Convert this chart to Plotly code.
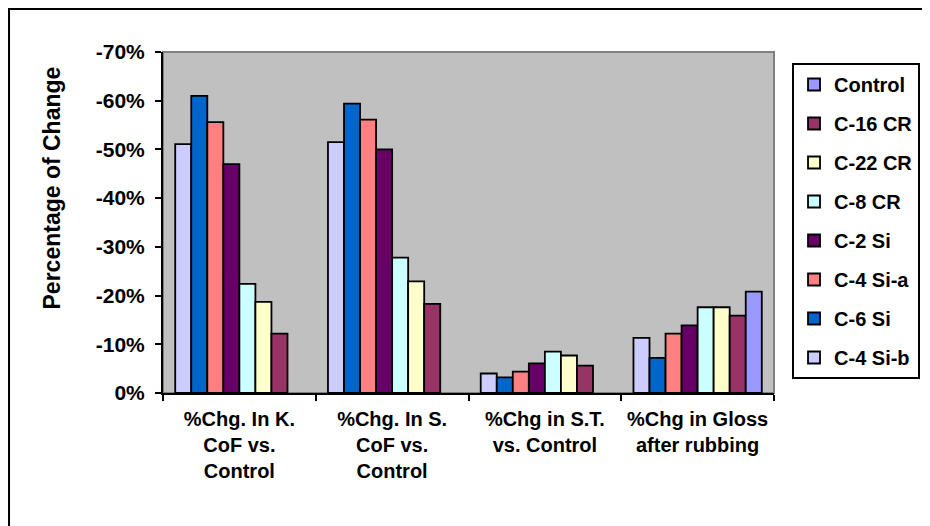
import plotly.graph_objects as go

categories = [
    "%Chg. In K.<br>CoF vs.<br>Control",
    "%Chg. In S.<br>CoF vs.<br>Control",
    "%Chg in S.T.<br>vs. Control",
    "%Chg in Gloss<br>after rubbing",
]

# series listed in bar order (left to right within each group)
series_names = ["C-4 Si-b", "C-6 Si", "C-4 Si-a", "C-2 Si", "C-8 CR", "C-22 CR", "C-16 CR", "Control"]
legend_ranks = [8, 7, 6, 5, 4, 3, 2, 1]

c4sib = [-0.511, -0.515, -0.040, -0.113]
c6si = [-0.610, -0.594, -0.032, -0.072]
c4sia = [-0.556, -0.561, -0.044, -0.122]
c2si = [-0.470, -0.500, -0.061, -0.139]
c8cr = [-0.224, -0.278, -0.085, -0.176]
c22cr = [-0.187, -0.229, -0.077, -0.176]
c16cr = [-0.122, -0.183, -0.056, -0.159]
control = [None, None, None, -0.208]

series_values = [c4sib, c6si, c4sia, c2si, c8cr, c22cr, c16cr, control]
series_colors = ["#CCCCFF", "#0066CC", "#FF8080", "#660066", "#CCFFFF", "#FFFFCC", "#993366", "#9999FF"]

tick_vals = [0, -0.1, -0.2, -0.3, -0.4, -0.5, -0.6, -0.7]
tick_text = ["0%", "-10%", "-20%", "-30%", "-40%", "-50%", "-60%", "-70%"]

FONT = "Arial, Liberation Sans, sans-serif"

fig = go.Figure()
for name, vals, col, rk in zip(series_names, series_values, series_colors, legend_ranks):
    fig.add_trace(go.Bar(
        x=categories, y=vals, name=name, legendgroup=name, legendrank=rk,
        marker=dict(color=col, line=dict(color="black", width=1.8)),
    ))

fig.update_layout(
    width=922, height=518,
    margin=dict(l=155, r=156, t=44, b=133, autoexpand=False),
    paper_bgcolor="white",
    plot_bgcolor="#C0C0C0",
    barmode="group",
    bargap=0.16,
    bargroupgap=0,
    font=dict(family=FONT, size=20, color="black", weight="bold"),
    showlegend=True,
    legend=dict(
        x=1.0295, y=0.9677, xanchor="left", yanchor="top",
        bgcolor="white", bordercolor="black", borderwidth=2,
        font=dict(family=FONT, size=20, color="black", weight="bold"),
        traceorder="grouped",
        tracegroupgap=10,
    ),
    xaxis=dict(
        showline=True, linecolor="black", linewidth=2,
        ticks="outside", tickson="boundaries", ticklen=6, tickwidth=2, tickcolor="black",
        tickfont=dict(family=FONT, size=20, color="black", weight="bold"),
        tickangle=0, automargin=False,
        ticklabelstandoff=7,
        showgrid=False, zeroline=False, fixedrange=True,
    ),
    yaxis=dict(
        range=[0, -0.7],
        tickvals=tick_vals, ticktext=tick_text,
        showline=True, linecolor="black", linewidth=2,
        ticks="outside", ticklen=6, tickwidth=2, tickcolor="black",
        tickfont=dict(family=FONT, size=21, color="black", weight="bold"),
        ticklabelstandoff=6, automargin=False,
        showgrid=False, zeroline=False, fixedrange=True,
    ),
    shapes=[
        dict(type="rect", xref="paper", yref="paper", x0=0, x1=1, y0=0, y1=1,
             line=dict(color="#808080", width=2), fillcolor="rgba(0,0,0,0)", layer="below"),
        # outer chart frame (left and top edges; the rest lies outside the picture)
        dict(type="path", xref="paper", yref="paper",
             path="M -0.2520 -0.60 L -0.2520 1.126 L 1.40 1.126",
             line=dict(color="black", width=2), layer="below"),
    ],
    annotations=[
        dict(text="Percentage of Change", xref="paper", yref="paper",
             x=-0.1817, y=0.6026, xanchor="center", yanchor="middle",
             textangle=-90, showarrow=False,
             font=dict(family=FONT, size=23, color="black", weight="bold")),
    ],
)

fig.write_html("out.html")
